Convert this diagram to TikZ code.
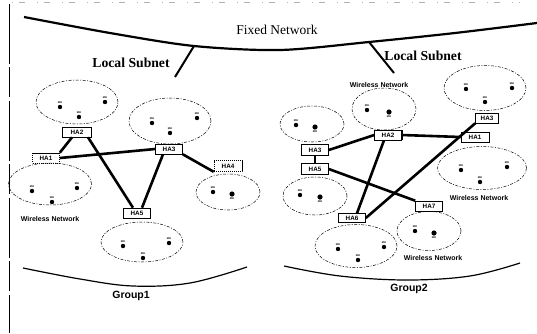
\documentclass[tikz,border=0pt]{standalone}
\usepackage{fontspec}
\setmainfont{Liberation Serif}
\newfontfamily\sansf{Liberation Sans}
\usetikzlibrary{shapes.geometric}
\begin{document}
\begin{tikzpicture}[x=1pt,y=-1pt,
  ha/.style={draw, line width=0.6pt, inner sep=0pt, minimum width=27pt, minimum height=10pt,
    font=\sansf\bfseries\fontsize{6.3}{6.3}\selectfont},
  hadot/.style={ha, dash pattern=on 1.2pt off 0.8pt},
  net/.style={ellipse, draw, line width=0.5pt, dash pattern=on 3pt off 1.5pt on 1pt off 1.5pt, inner sep=0pt},
  link/.style={line width=2.6pt},
  fixednet/.style={line width=2.2pt},
  grp/.style={line width=1.2pt},
  mhlab/.style={font=\sansf\bfseries\fontsize{2.6}{3}\selectfont, inner sep=0pt},
  mhU/.style={circle, fill=black, inner sep=0pt, minimum size=4.4pt, label={[mhlab, yshift=1.2pt]above:MH}},
  mhD/.style={circle, fill=black, inner sep=0pt, minimum size=5.2pt, label={[mhlab, yshift=-1.2pt]below:MH}},
  wn/.style={font=\sansf\bfseries\fontsize{7}{8}\selectfont, inner sep=0pt},
  ttl/.style={font=\fontsize{13.5}{14}\selectfont, inner sep=0pt},
  ls/.style={font=\bfseries\fontsize{13.7}{14}\selectfont, inner sep=0pt},
  gl/.style={font=\sansf\bfseries\fontsize{10.5}{11}\selectfont, inner sep=0pt}
]
\useasboundingbox[fill=white] (0,0) rectangle (537,333);
% scan edges
\draw[line width=0.8pt, dash pattern=on 60pt off 3pt on 30pt off 4pt] (9,4) -- (9,333);
\draw[gray!60, line width=0.5pt, dash pattern=on 1pt off 6pt on 6pt off 12pt] (12,2) -- (520,2);

% fixed network
\draw[fixednet] plot[smooth, tension=0.5] coordinates {(24,17) (110,33) (194,46) (280,50) (369,42) (455,33) (537,23)};
\node[ttl] (fn) at (277,30) {Fixed Network};
\coordinate (jL) at (194,46);
\coordinate (jR) at (369,42);
\coordinate (eL) at (175,77);
\coordinate (eR) at (394,73);
\draw[line width=2pt] (jL) -- (eL);
\draw[line width=2pt] (jR) -- (eR);
\node[ls] (lsL) at (131,63) {Local Subnet};
\node[ls] (lsR) at (423,56) {Local Subnet};

% ---------- left group ----------
\node[net, minimum width=82pt, minimum height=44pt] (eA) at (77,102) {};
\node[net, minimum width=82pt, minimum height=46pt] (eB) at (170,121) {};
\node[net, minimum width=64pt, minimum height=36pt] (eC) at (228,192) {};
\node[net, minimum width=83pt, minimum height=42pt] (eD) at (50,184) {};
\node[net, minimum width=82pt, minimum height=40pt] (eE) at (142,242) {};

\node[ha, fill=white, minimum width=29pt] (lHA2) at (77,132) {HA2};
\node[hadot] (lHA1) at (46,158) {HA1};
\node[ha, fill=white] (lHA3) at (169,149) {HA3};
\node[hadot, minimum width=28pt, minimum height=11pt] (lHA4) at (228,166) {HA4};
\node[ha] (lHA5) at (137,213) {HA5};

\draw[link] ([xshift=-5pt]lHA2.south) -- (lHA1.north east);
\draw[link] (lHA1.east) -- (lHA3.west);
\draw[link] ([xshift=11pt]lHA2.south) -- ([xshift=-4pt]lHA5.north);
\draw[link] ([xshift=-6pt]lHA3.south) -- ([xshift=5pt]lHA5.north);
\draw[link] (lHA3.south east) -- (lHA4.south west);

\node[wn] (wnD) at (50,219) {Wireless Network};
\draw[grp] plot[smooth, tension=0.6] coordinates {(23,268) (80,279) (133,286) (190,283) (247,267)};
\node[gl] (g1) at (131,296) {Group1};

% ---------- right group ----------
\node[net, minimum width=64pt, minimum height=42pt] (eF) at (384,109) {};
\node[net, minimum width=82pt, minimum height=45pt] (eG) at (485,88) {};
\node[net, minimum width=89pt, minimum height=43pt] (eH) at (482,168) {};
\node[net, minimum width=64pt, minimum height=36pt] (eI) at (312,124) {};
\node[net, minimum width=64pt, minimum height=38pt] (eJ) at (315,196) {};
\node[net, minimum width=82pt, minimum height=43pt] (eK) at (356,246) {};
\node[net, minimum width=64pt, minimum height=39pt] (eL2) at (429,231) {};

\node[ha, fill=white] (rHA2) at (388,135) {HA2};
\node[ha, fill=white, minimum width=23pt] (rHA3t) at (487,118) {HA3};
\node[ha, fill=white, minimum width=28pt] (rHA1) at (475,137) {HA1};
\node[ha, fill=white, minimum height=11pt] (rHA3) at (315,150) {HA3};
\node[ha, fill=white, minimum height=11pt] (rHA5) at (315,169) {HA5};
\node[ha, fill=white, minimum height=9pt] (rHA6) at (352,218) {HA6};
\node[ha, fill=white] (rHA7) at (429,206) {HA7};

\draw[link] (rHA3.east) -- (rHA2.west);
\draw[link] (rHA3.south) -- (rHA5.north);
\draw[link] (rHA2.east) -- (rHA1.west);
\draw[line width=1.2pt] ([xshift=1pt]rHA2.north east) -- ([xshift=1pt]rHA2.south east);
\draw[link] ([xshift=-4pt]rHA2.south) -- ([xshift=5pt]rHA6.north);
\draw[link] (rHA3t.south west) -- (rHA6.east);
\draw[link] (rHA5.east) -- (rHA7.north west);

\node[wn] (wnF) at (379,85) {Wireless Network};
\node[wn] (wnH) at (479,198) {Wireless Network};
\node[wn] (wnL) at (433,258) {Wireless Network};
\draw[grp] plot[smooth, tension=0.6] coordinates {(284,266) (340,276) (407,280) (470,276) (520,263)};
\node[gl] (g2) at (409,289) {Group2};

% ---------- mobile hosts ----------
\foreach \x/\y/\d [count=\i] in {
  60/107/U, 105/102/U, 79/117/U,
  152/123/U, 197/118/U, 170/133/U,
  213/192/U, 232/194/D,
  32/191/U, 77/188/U, 52/202/U,
  123/246/U, 169/243/U, 143/258/U,
  367/110/U, 389/112/D,
  466/89/U, 512/88/U, 485/102/U,
  461/170/U, 507/167/U, 480/182/U,
  296/125/U, 315/127/D,
  300/195/U, 320/197/D,
  338/249/U, 384/247/U, 358/260/U,
  415/231/U, 434/233/D}
  {\node[mh\d] (mh\i) at (\x,\y) {};}
\end{tikzpicture}
\end{document}
